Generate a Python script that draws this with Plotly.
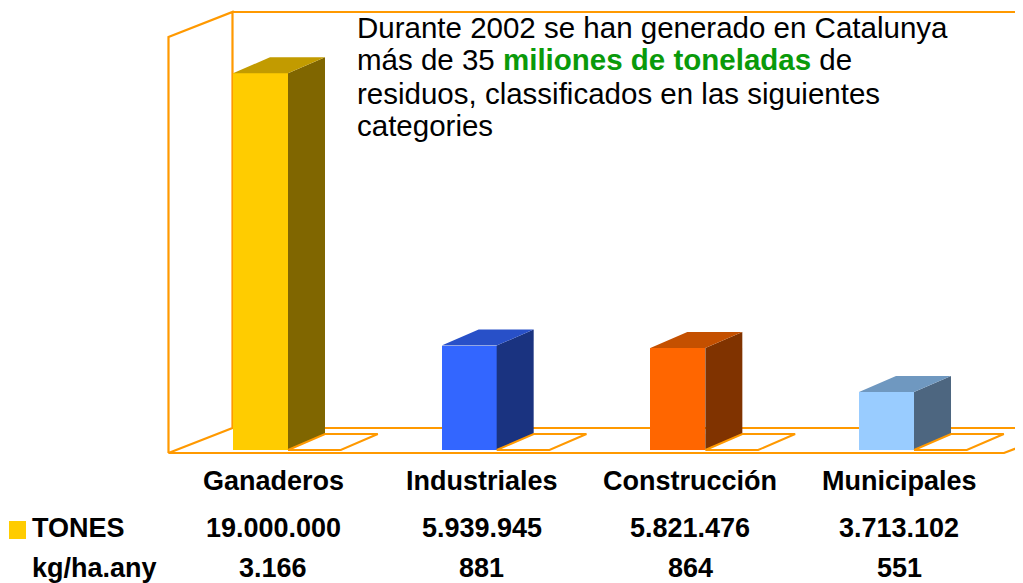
import plotly.graph_objects as go

# ---------------- data ----------------
categories = ["Ganaderos", "Industriales", "Construcción", "Municipales"]
tones = [19000000, 5939945, 5821476, 3713102]
kg_ha_any = [3166, 881, 864, 551]
row_labels = ["TONES", "kg/ha.any"]
headline = [
    "Durante 2002 se han generado en Catalunya",
    "más de 35 <b><span style='color:#0A9A0A'>miliones de toneladas</span></b> de",
    "residuos, classificados en las siguientes",
    "categories",
]

# ---------------- styles ----------------
front_colors = ["#FFCC00", "#3366FF", "#FF6600", "#99CCFF"]
top_colors = ["#C29B00", "#2850C8", "#C45000", "#6F98C0"]
side_colors = ["#806600", "#1A3380", "#803300", "#4D6680"]
frame_color = "#FF9900"
FONT = "Liberation Sans, Arial, sans-serif"

# the page body adds an 8px offset, so the figure is drawn 8px smaller
OFF = 8
W, H = 1023 - OFF, 583 - OFF
ML, MR, MT, MB = 152, 0, 0, 123
PW, PH = W - ML - MR, H - MT - MB

# axis ranges (value axis in millions of tonnes)
X_RANGE = [-0.4816, 3.6541]
Y_RANGE = [0.4508, 22.129]

# 3-D geometry in axis units
BAR_W = 0.2636
DEPTH_X = 0.1773
DEPTH_Y = 0.767
FLOOR = 0.930            # value axis level of the floor under the bars
WALL_X0 = -0.4409        # front-left corner of the box
WALL_Y0 = 0.7866
WALL_DX = 0.3067
WALL_DY = 1.199
WALL_TOP = 20.739
BOX_RIGHT = 3.5631


def paper_x(px):
    return (px - OFF - ML) / PW


def paper_y(py):
    return (H - MB - (py - OFF)) / PH


fig = go.Figure()

# ---------------- frame (walls + floor) ----------------
bx0, by0 = WALL_X0, WALL_Y0
bx1, by1 = WALL_X0 + WALL_DX, WALL_Y0 + WALL_DY
top_back = WALL_TOP + WALL_DY
far = X_RANGE[1] + 1
frame_paths = [
    [(bx0, by0), (bx0, WALL_TOP), (bx1, top_back), (bx1, by1), (bx0, by0)],
    [(bx1, top_back), (far, top_back)],
    [(bx1, by1), (far, by1)],
    [(bx0, by0), (BOX_RIGHT, by0), (BOX_RIGHT + WALL_DX, by0 + WALL_DY)],
]
for path in frame_paths:
    d = "M " + " L ".join(f"{x},{y}" for x, y in path)
    fig.add_shape(type="path", path=d, xref="x", yref="y", layer="below",
                  line=dict(color=frame_color, width=2.2))

# ---------------- bars ----------------
xs = list(range(len(categories)))
vals = [t / 1e6 for t in tones]

fig.add_trace(go.Bar(
    x=xs, y=[v - FLOOR for v in vals], base=FLOOR, width=BAR_W,
    marker=dict(color=front_colors, line=dict(width=0)),
    name=row_labels[0], showlegend=False, hoverinfo="skip",
))

for i, v in enumerate(vals):
    x0 = xs[i] - BAR_W / 2
    x1 = xs[i] + BAR_W / 2
    # side face
    fig.add_trace(go.Scatter(
        x=[x1, x1 + DEPTH_X, x1 + DEPTH_X, x1, x1],
        y=[FLOOR, FLOOR + DEPTH_Y, v + DEPTH_Y, v, FLOOR],
        fill="toself", fillcolor=side_colors[i], mode="lines",
        line=dict(width=0, color=side_colors[i]), showlegend=False, hoverinfo="skip"))
    # top face
    fig.add_trace(go.Scatter(
        x=[x0, x1, x1 + DEPTH_X, x0 + DEPTH_X, x0],
        y=[v, v, v + DEPTH_Y, v + DEPTH_Y, v],
        fill="toself", fillcolor=top_colors[i], mode="lines",
        line=dict(width=0, color=top_colors[i]), showlegend=False, hoverinfo="skip"))
    # second series (kg/ha.any) - flat on the floor at this scale
    k = kg_ha_any[i] / 1e6
    lvl = max(FLOOR, k)
    s0, s1 = x1, x1 + BAR_W * 0.96
    fig.add_trace(go.Scatter(
        x=[s0, s1, s1 + DEPTH_X, s0 + DEPTH_X, s0],
        y=[lvl, lvl, lvl + DEPTH_Y, lvl + DEPTH_Y, lvl],
        fill="toself", fillcolor="white", mode="lines",
        line=dict(width=2, color=frame_color), showlegend=False, hoverinfo="skip"))

# ---------------- headline text ----------------
line_centers = [27, 60, 93, 126]
for txt, py in zip(headline, line_centers):
    fig.add_annotation(x=paper_x(355), y=paper_y(py), xref="paper", yref="paper",
                       text=txt, showarrow=False, xanchor="left", yanchor="middle",
                       font=dict(family=FONT, size=29.5, color="black"))

# ---------------- data table ----------------
def fmt(n):
    return f"{n:,}".replace(",", ".")

COL_SHIFT = 0.06
for i, c in enumerate(categories):
    fig.add_annotation(x=xs[i] + COL_SHIFT, y=paper_y(481), xref="x", yref="paper",
                       text=f"<b>{c}</b>", showarrow=False, xanchor="center", yanchor="middle",
                       font=dict(family=FONT, size=27, color="black"))
    fig.add_annotation(x=xs[i] + COL_SHIFT, y=paper_y(528), xref="x", yref="paper",
                       text=f"<b>{fmt(tones[i])}</b>", showarrow=False, xanchor="center",
                       yanchor="middle", font=dict(family=FONT, size=27, color="black"))
    fig.add_annotation(x=xs[i] + COL_SHIFT, y=paper_y(568), xref="x", yref="paper",
                       text=f"<b>{fmt(kg_ha_any[i])}</b>", showarrow=False, xanchor="center",
                       yanchor="middle", font=dict(family=FONT, size=27, color="black"))

for lab, py in zip(row_labels, [528, 568]):
    fig.add_annotation(x=paper_x(30), y=paper_y(py), xref="paper", yref="paper",
                       text=f"<b>{lab}</b>", showarrow=False, xanchor="left", yanchor="middle",
                       font=dict(family=FONT, size=27, color="black"))

fig.add_shape(type="rect", xref="paper", yref="paper",
              x0=paper_x(9), x1=paper_x(26), y0=paper_y(539), y1=paper_y(521),
              fillcolor=front_colors[0], line=dict(width=0))

fig.update_layout(
    width=W, height=H, margin=dict(l=ML, r=MR, t=MT, b=MB),
    paper_bgcolor="white", plot_bgcolor="white",
    xaxis=dict(range=X_RANGE, visible=False, fixedrange=True),
    yaxis=dict(range=Y_RANGE, visible=False, fixedrange=True),
    showlegend=False, bargap=0,
)

fig.write_html("out.html")
